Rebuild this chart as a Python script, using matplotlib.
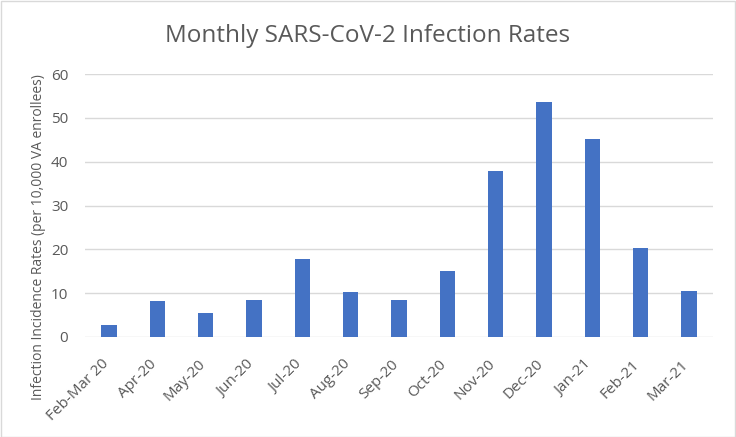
import numpy as np
import matplotlib.pyplot as plt
import matplotlib.transforms as mtransforms

months = ['Feb-Mar 20', 'Apr-20', 'May-20', 'Jun-20', 'Jul-20', 'Aug-20', 'Sep-20',
          'Oct-20', 'Nov-20', 'Dec-20', 'Jan-21', 'Feb-21', 'Mar-21']
rates = [2.7, 8.1, 5.4, 8.5, 17.9, 10.3, 8.4, 15.1, 37.9, 53.7, 45.1, 20.3, 10.6]
yticks = [0, 10, 20, 30, 40, 50, 60]

text_color = '#595959'
plt.rcParams['font.family'] = ['Open Sans', 'DejaVu Sans']

fig = plt.figure(figsize=(7.36, 4.37), dpi=100)
ax = fig.add_axes([85 / 736, 1 - 337 / 437, 628 / 736, 263 / 437])

x = np.arange(len(months))
ax.bar(x, rates, width=0.32, color='#4472C4', zorder=3)

ax.set_xlim(-0.5, len(months) - 0.5)
ax.set_ylim(0, 60)
ax.set_yticks(yticks)
ax.set_xticks(x)
ax.set_xticklabels(months, rotation=45, ha='right', va='center', rotation_mode='anchor')
ax.tick_params(axis='both', length=0, colors=text_color)
ax.tick_params(axis='x', pad=18, labelsize=11)
ax.tick_params(axis='y', pad=12, labelsize=11)
shift = mtransforms.ScaledTranslation(-3 / 100, 0, fig.dpi_scale_trans)
for lbl in ax.get_xticklabels():
    lbl.set_transform(lbl.get_transform() + shift)
ax.grid(axis='y', color='#D9D9D9', linewidth=1, zorder=0)
for s in ax.spines.values():
    s.set_visible(False)

ax.set_ylabel('Infection Incidence Rates (per 10,000 VA enrollees)', color=text_color, fontsize=10)
ax.yaxis.set_label_coords(-0.062, 0.38)

fig.text(0.5, 1 - 36 / 437, 'Monthly SARS-CoV-2 Infection Rates', ha='center', va='center',
         fontsize=17.5, color=text_color)

# light border round the chart
fig.patches.append(plt.Rectangle((0.001, 0.001), 0.997, 0.997, transform=fig.transFigure,
                                 fill=False, edgecolor='#D9D9D9', linewidth=1))

fig.savefig('out.png', dpi=100)
